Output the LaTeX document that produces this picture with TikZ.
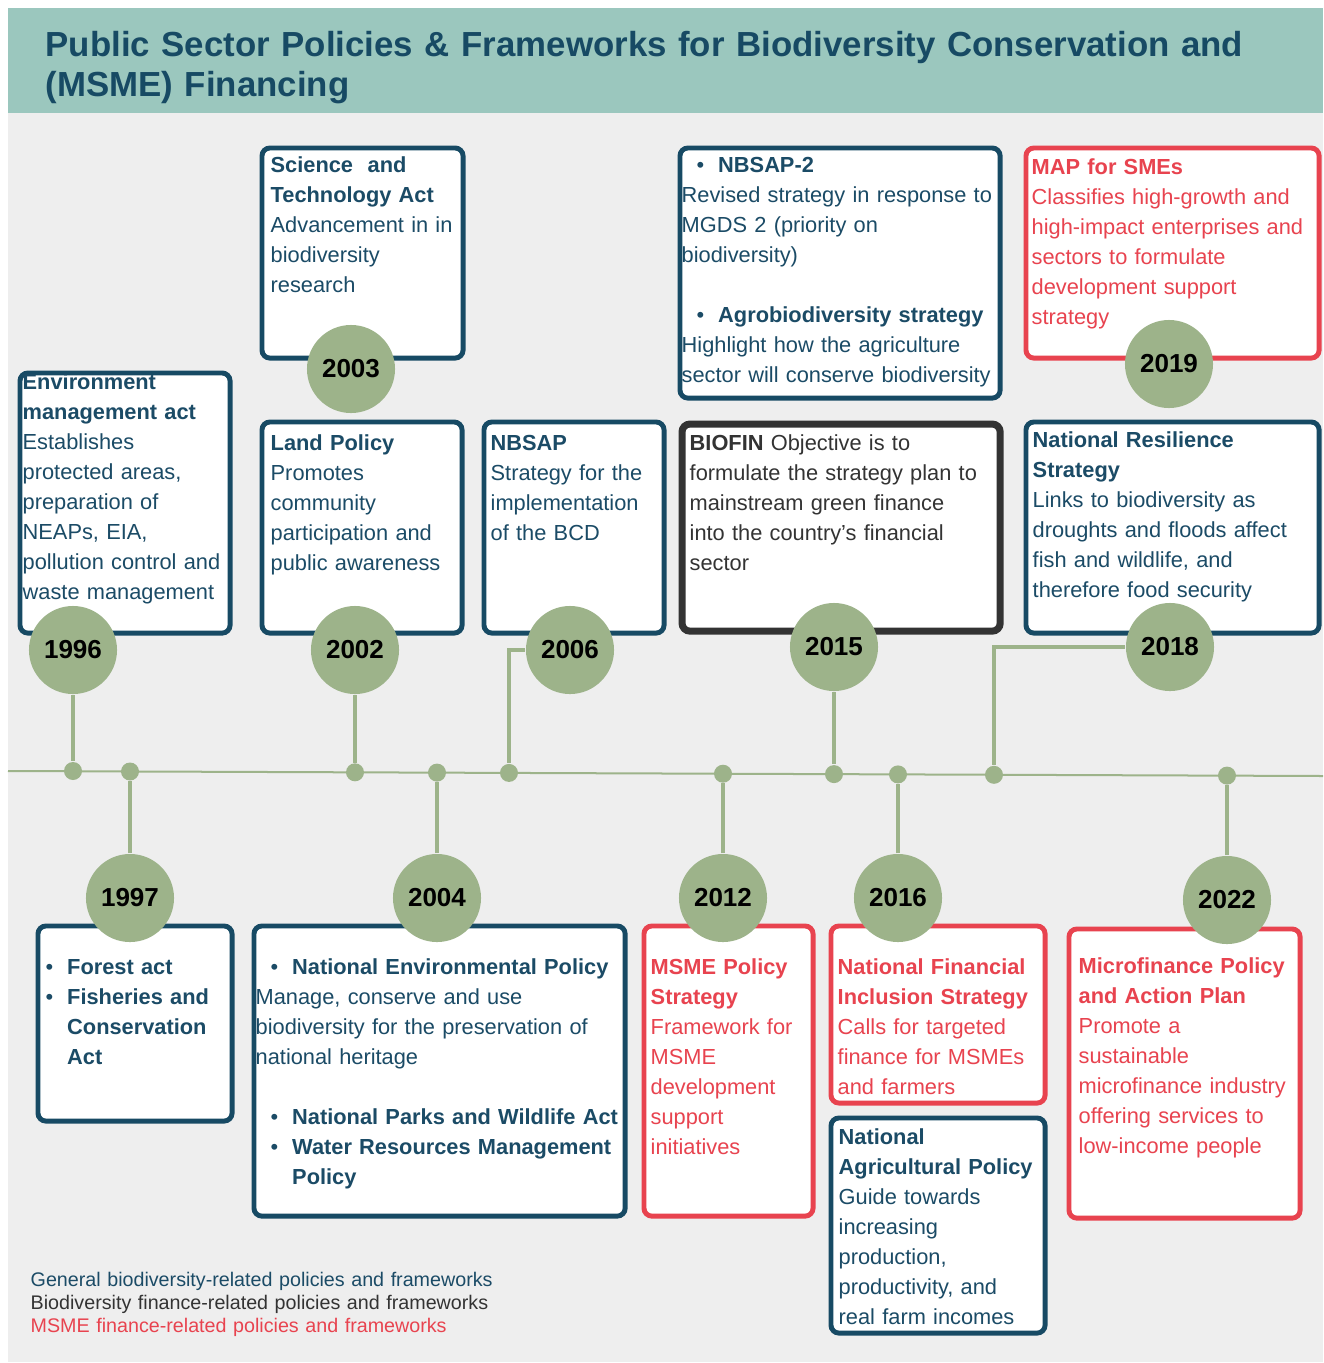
\documentclass[tikz,border=0pt]{standalone}
\usepackage{fontspec}
\setmainfont{Liberation Sans}
\usetikzlibrary{positioning}

\definecolor{navy}{HTML}{174A64}
\definecolor{navytext}{HTML}{1B4B66}
\definecolor{alert}{HTML}{E8434F}
\definecolor{charcoal}{HTML}{333333}
\definecolor{sage}{HTML}{9DB38A}
\definecolor{headerbg}{HTML}{9BC7BE}
\definecolor{panel}{HTML}{EEEEEE}

\newcommand{\bodyfont}{\fontsize{6.2}{8.54}\selectfont}
\newcommand{\itm}[2][.15cm]{\hspace*{#1}\makebox[.215cm][l]{\textbullet}#2}

\tikzset{
  card/.style={draw=#1, line width=1.4pt, rounded corners=.08cm, fill=white,
    anchor=north west, inner sep=0pt},
  info/.style={anchor=base west, inner sep=0pt, text width=3.7cm, align=left,
    font=\bodyfont, text=#1},
  year/.style={circle, fill=sage, minimum size=.88cm, inner sep=0pt,
    font=\fontsize{7.4}{8}\selectfont\bfseries},
  dot/.style={circle, fill=sage, minimum size=.18cm, inner sep=0pt},
  link/.style={draw=sage, line width=.04cm}
}

\begin{document}
\begin{tikzpicture}[x=0.01cm,y=-0.01cm]
  \useasboundingbox (0,0) rectangle (1323,1363);
  % Draw background and header
  \fill[white] (0,0) rectangle (1323,1363);
  \fill[panel] (8,113) rectangle (1323,1362);
  \fill[headerbg] (8,8) rectangle (1323,113);
  \node[anchor=base west, inner sep=0pt, text width=12.6cm, align=left,
        font=\fontsize{9.9}{11.4}\selectfont\bfseries, text=navy] (title) at (45,56)
        {Public Sector Policies \& Frameworks for Biodiversity Conservation and\\(MSME) Financing};

  % Draw upper cards
  \node[card=navy, minimum width=2.10cm, minimum height=2.60cm] (env) at (17.5,370.5) {};
  \node[card=navy, minimum width=2.01cm, minimum height=2.10cm] (sci) at (259.5,145.5) {};
  \node[card=navy, minimum width=2.00cm, minimum height=2.11cm] (land) at (259.5,419.5) {};
  \node[card=navy, minimum width=1.80cm, minimum height=2.11cm] (nbsap) at (481.5,419.5) {};
  \node[card=navy, minimum width=3.20cm, minimum height=2.50cm] (nbsaptwo) at (677.5,145.5) {};
  \node[card=charcoal, line width=2pt, minimum width=3.18cm, minimum height=2.07cm] (biofin) at (678.5,420.5) {};
  \node[card=alert, minimum width=2.93cm, minimum height=2.10cm] (mapsme) at (1023.5,145.5) {};
  \node[card=navy, minimum width=2.93cm, minimum height=2.11cm] (resil) at (1023.5,419.5) {};

  % Draw lower cards
  \node[card=navy, minimum width=1.94cm, minimum height=1.95cm] (forest) at (35.5,923.5) {};
  \node[card=navy, minimum width=3.71cm, minimum height=2.90cm] (nep) at (251.5,923.5) {};
  \node[card=alert, minimum width=1.69cm, minimum height=2.90cm] (msme) at (641.5,923.5) {};
  \node[card=alert, minimum width=2.14cm, minimum height=1.77cm] (nfis) at (828.5,923.5) {};
  \node[card=navy, minimum width=2.14cm, minimum height=2.15cm] (natag) at (828.5,1115.5) {};
  \node[card=alert, minimum width=2.31cm, minimum height=2.89cm] (micro) at (1066.5,926.5) {};

  % Draw card texts
  \node[info=navytext] (envtxt) at (22,389)
    {\textbf{Environment}\\\textbf{management act}\\Establishes\\protected areas,\\preparation of\\NEAPs, EIA,\\pollution control and\\waste management};
  \node[info=navytext] (scitxt) at (270,172)
    {\textbf{Science\ \ and}\\\textbf{Technology Act}\\Advancement in in\\biodiversity\\research};
  \node[info=navytext] (landtxt) at (270,450)
    {\textbf{Land Policy}\\Promotes\\community\\participation and\\public awareness};
  \node[info=navytext] (nbsaptxt) at (490,450)
    {\textbf{NBSAP}\\Strategy for the\\implementation\\of the BCD};
  \node[info=navytext] (nbsaptwotxt) at (681,172)
    {\itm{\textbf{NBSAP-2}}\\Revised strategy in response to\\MGDS 2 (priority on\\biodiversity)\\[8.54pt]
     \itm{\textbf{Agrobiodiversity strategy}}\\Highlight how the agriculture\\sector will conserve biodiversity};
  \node[info=charcoal] (biofintxt) at (689,450)
    {\textbf{BIOFIN} Objective is to\\formulate the strategy plan to\\mainstream green finance\\into the country’s financial\\sector};
  \node[info=alert] (mapsmetxt) at (1031,174)
    {\textbf{MAP for SMEs}\\Classifies high-growth and\\high-impact enterprises and\\sectors to formulate\\development support\\strategy};
  \node[info=navytext] (resiltxt) at (1032,447)
    {\textbf{National Resilience}\\\textbf{Strategy}\\Links to biodiversity as\\droughts and floods affect\\fish and wildlife, and\\therefore food security};
  \node[info=navytext] (foresttxt) at (45,974)
    {\itm[0pt]{\textbf{Forest act}}\\\itm[0pt]{\textbf{Fisheries and}}\\\hspace*{.215cm}\textbf{Conservation}\\\hspace*{.215cm}\textbf{Act}};
  \node[info=navytext] (neptxt) at (255,974)
    {\itm{\textbf{National Environmental Policy}}\\Manage, conserve and use\\biodiversity for the preservation of\\national heritage\\[8.54pt]
     \itm{\textbf{National Parks and Wildlife Act}}\\\itm{\textbf{Water Resources Management}}\\\hspace*{.365cm}\textbf{Policy}};
  \node[info=alert] (msmetxt) at (650,974)
    {\textbf{MSME Policy}\\\textbf{Strategy}\\Framework for\\MSME\\development\\support\\initiatives};
  \node[info=alert] (nfistxt) at (837,974)
    {\textbf{National Financial}\\\textbf{Inclusion Strategy}\\Calls for targeted\\finance for MSMEs\\and farmers};
  \node[info=navytext] (natagtxt) at (838,1144)
    {\textbf{National}\\\textbf{Agricultural Policy}\\Guide towards\\increasing\\production,\\productivity, and\\real farm incomes};
  \node[info=alert] (microtxt) at (1078,973)
    {\textbf{Microfinance Policy}\\\textbf{and Action Plan}\\Promote a\\sustainable\\microfinance industry\\offering services to\\low-income people};

  % Draw timeline
  \coordinate (tlA) at (8,771);
  \coordinate (tlB) at (1323,776);
  \draw[sage, line width=.02cm] (tlA) -- (tlB);

  % Draw dots on the timeline
  \node[dot] (d1996) at (73,771) {};
  \node[dot] (d1997) at (130,771.5) {};
  \node[dot] (d2002) at (355,772.3) {};
  \node[dot] (d2004) at (437,772.6) {};
  \node[dot] (d2006) at (509,772.9) {};
  \node[dot] (d2012) at (723,773.7) {};
  \node[dot] (d2015) at (834,774.1) {};
  \node[dot] (d2016) at (898,774.4) {};
  \node[dot] (d2018) at (994,774.8) {};
  \node[dot] (d2022) at (1227,775.6) {};

  % Draw year circles
  \node[year] (y1996) at (73,650) {1996};
  \node[year] (y2003) at (351,369) {2003};
  \node[year] (y2002) at (355,650) {2002};
  \node[year] (y2006) at (570,650) {2006};
  \node[year] (y2015) at (834,647) {2015};
  \node[year] (y2019) at (1169,364) {2019};
  \node[year] (y2018) at (1170,647) {2018};
  \node[year] (y1997) at (130,898) {1997};
  \node[year] (y2004) at (437,898) {2004};
  \node[year] (y2012) at (723,898) {2012};
  \node[year] (y2016) at (898,898) {2016};
  \node[year] (y2022) at (1227,900) {2022};

  % Draw links
  \draw[link] (y1996) -- (d1996);
  \draw[link] (y2002) -- (d2002);
  \draw[link] (d2006) |- (y2006);
  \draw[link] (y2015) -- (d2015);
  \draw[link] (d2018) |- (y2018);
  \draw[link] (y1997) -- (d1997);
  \draw[link] (y2004) -- (d2004);
  \draw[link] (y2012) -- (d2012);
  \draw[link] (y2016) -- (d2016);
  \draw[link] (y2022) -- (d2022);

  % Draw legend
  \node[anchor=base west, inner sep=0pt, text width=6cm, align=left,
        font=\fontsize{5.6}{6.55}\selectfont] (legend) at (30,1286)
    {{\color{navytext}General biodiversity-related policies and frameworks}\\
     {\color{charcoal}Biodiversity finance-related policies and frameworks}\\
     {\color{alert}MSME finance-related policies and frameworks}};
\end{tikzpicture}
\end{document}
